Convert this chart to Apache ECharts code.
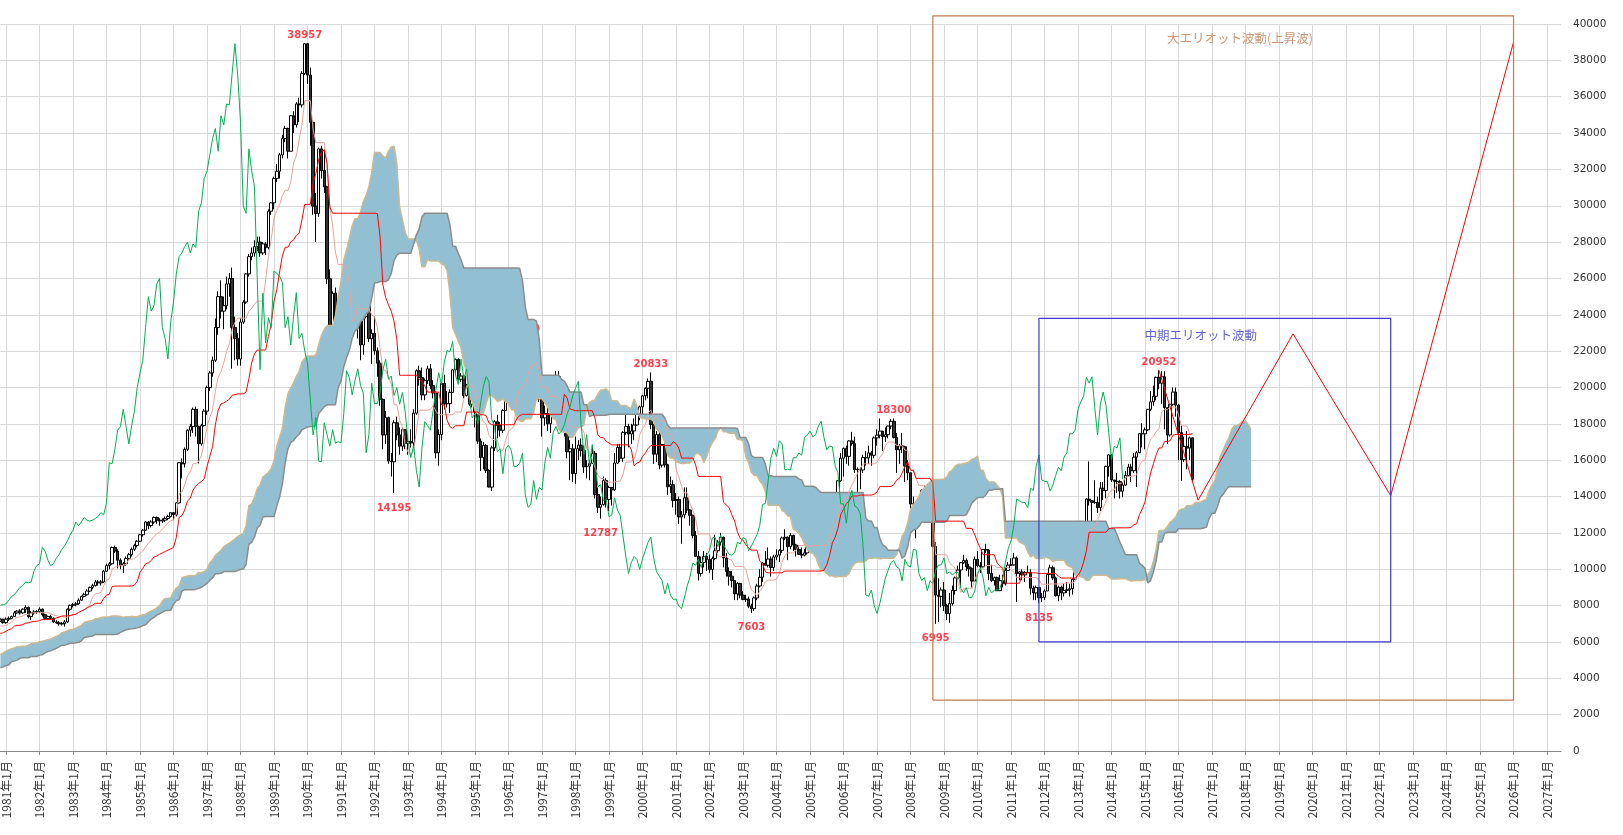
<!DOCTYPE html>
<html><head><meta charset="utf-8">
<script src="https://cdn.jsdelivr.net/npm/echarts@6/dist/echarts.min.js"></script>
<style>html,body{margin:0;padding:0;background:#fff}#c{width:1623px;height:835px}</style>
</head><body><div id="c"></div>
<script>
// ---- Monthly data before the chart start (1974-06 .. 1980-10), used only by the Ichimoku lines
const preClose = [4350,4150,3850,3780,3900,3850,3817,
 3950,4150,4350,4400,4450,4560,4300,4050,4000,4150,4300,4359,
 4500,4550,4600,4700,4650,4700,4750,4650,4700,4600,4700,4990,
 5000,5050,5100,5150,5100,5100,5150,5250,5280,5100,4950,4866,
 5050,5200,5350,5400,5450,5500,5550,5650,5700,5750,5850,6001,
 6050,6100,6150,6250,6200,6150,6100,6200,6400,6300,6350,6569,
 6600,6650,6550,6500,6650,6750,6850,7050,7000,7150];
const preHigh = [4500,4400,4200,3950,3950,4000,3900,
 4000,4200,4400,4450,4500,4564,4560,4320,4100,4200,4350,4400,
 4550,4600,4650,4750,4760,4750,4800,4780,4750,4720,4750,5000,
 5100,5100,5150,5200,5200,5150,5200,5300,5300,5300,5120,4980,
 5100,5250,5400,5450,5500,5560,5600,5700,5750,5800,5900,6050,
 6100,6150,6200,6300,6300,6250,6200,6250,6450,6420,6400,6600,
 6650,6700,6700,6600,6700,6800,6900,7100,7100,7200];
const preLow = [4300,4100,3800,3650,3355,3780,3700,
 3700,3900,4100,4300,4350,4400,4250,4000,3950,3950,4100,4250,
 4330,4450,4500,4560,4600,4600,4650,4600,4600,4550,4560,4680,
 4950,4950,5000,5050,5050,5030,5050,5120,5200,5050,4900,4800,
 4850,5030,5180,5320,5380,5420,5470,5530,5600,5650,5700,5820,
 5950,6000,6050,6100,6150,6100,6050,6080,6180,6250,6250,6330,
 6500,6550,6480,6450,6480,6620,6700,6830,6950,6950];

// ---- Monthly Nikkei 225 (1980-11 .. 2016-06)
const close = [7250,7063,
 7250,7300,7400,7600,7700,7600,7800,7900,7400,7600,7650,7681,
 7800,7500,7300,7400,7300,7100,7050,7000,7000,7100,7800,8016,
 8050,8100,8300,8500,8600,8800,9000,9100,9300,9250,9300,9894,
 10200,10300,11200,11000,10500,10200,10300,10600,10800,11100,11300,11543,
 11900,12150,12600,12400,12600,12850,12700,12650,12700,12800,12900,13113,
 13000,13650,15860,15800,16600,17650,17850,18800,17850,16900,17900,18701,
 20000,20800,21500,23300,25000,24200,24500,25700,26000,23300,22700,21564,
 23600,24700,26250,27200,27400,27750,28000,27400,27900,27700,29700,30159,
 31500,31900,32800,33700,34250,33000,34950,34450,35600,35550,37270,38916,
 37190,34590,29980,29580,33130,31940,31040,25980,20980,25190,22450,23849,
 23290,26410,26290,26110,25790,23290,23900,22340,23920,25220,22690,22984,
 22020,21340,19350,17390,18350,15950,15910,18060,17400,16770,17680,16925,
 17020,16950,18590,20920,20550,19590,20380,21030,20110,19700,16410,17417,
 20230,19110,19110,19730,20970,21550,20450,20630,19560,19990,19080,19723,
 18650,17050,16140,16810,15440,14520,16680,18120,17910,17650,18740,19868,
 20810,20130,21400,22040,21960,22530,20690,20170,21560,20470,21020,19361,
 18330,18560,18000,19150,20070,20600,20330,18230,17890,16460,16630,15259,
 16630,16830,16530,15640,15670,15830,16380,14110,13410,13560,14880,13842,
 14500,14370,15840,16700,16110,17530,17860,17440,17610,17940,18560,18934,
 19540,19960,20340,17970,16330,17410,15730,16860,15750,14540,14650,13786,
 13840,12880,12990,13930,13260,12970,11860,10710,9770,10370,10700,10543,
 9990,10590,11020,11490,11760,10620,9880,9620,9380,8640,9220,8579,
 8340,8360,7970,7830,8420,9080,9560,10340,10220,10560,10100,10677,
 10780,11040,11720,11760,11240,11860,11330,11080,10820,10770,10900,11489,
 11390,11740,11670,11010,11280,11580,11900,12410,13570,13610,14870,16111,
 16650,16210,17060,16910,15470,15510,15460,16140,16130,16400,16270,17226,
 17380,17600,17290,17400,17880,18140,17250,16570,16790,16740,15680,15308,
 13590,13600,12530,13850,14340,13480,13380,13070,11260,8580,8510,8860,
 7990,7570,8110,8830,9520,9960,10360,10490,10130,10030,9350,10546,
 10200,10130,11090,11060,9770,9380,9540,8820,9370,9200,9940,10229,
 10240,10620,9760,9850,9690,9820,9830,8960,8700,8990,8430,8455,
 8800,9720,10080,9520,8540,9010,8700,8840,8870,8930,9450,10395,
 11140,11560,12400,13860,13770,13680,13670,13390,14460,14330,15660,16291,
 14910,14840,14830,14300,14630,15160,15620,15420,16170,16410,17460,17451,
 17670,18800,19210,19520,20560,20240,20590,18890,17390,19080,19750,19034,
 17520,16030,16760,16670,17230,14952];
const high = [7300,7280,
 7350,7400,7450,7700,7750,7800,7850,8019,7950,7700,7750,7750,
 7900,7850,7550,7450,7500,7350,7200,7150,7100,7200,7850,8050,
 8150,8200,8400,8550,8700,8900,9050,9200,9400,9400,9400,9950,
 10300,10400,11250,11300,11100,10600,10400,10700,10900,11200,11400,11600,
 11950,12200,12650,12650,12700,12900,12900,12800,12800,12900,13000,13150,
 13150,13700,15900,16100,16700,17700,18000,18900,18950,17900,18000,18820,
 20100,20900,21700,23800,25300,25900,25000,26100,26300,26600,23900,23000,
 23800,24800,26300,27350,27700,28100,28300,28300,28000,28000,29800,30200,
 31600,32300,32900,33900,34400,34300,35000,35200,35700,35950,37400,38957,
 38920,37600,34700,30700,33200,33300,33100,31100,26500,25300,25500,24100,
 24000,26500,27150,26700,26500,26000,24300,24200,24100,25300,25300,23200,
 23900,22200,21500,19400,18700,18400,16400,18200,18400,17800,17800,17700,
 17400,17700,18800,21000,21200,21100,20500,21200,21300,20400,19800,17700,
 20300,20700,19800,19900,21000,21600,21600,20800,20700,20200,20100,19800,
 19900,18800,17200,17000,16900,15500,16800,18200,18500,18100,18800,19900,
 20900,21100,21500,22300,22600,22750,22700,21200,21700,21700,21300,21100,
 19500,19000,18900,19300,20500,20900,20900,20400,18600,18200,17100,16900,
 17300,17100,17200,16800,16000,16000,16800,16500,14500,14000,15100,15000,
 14600,14500,16400,16900,16900,17600,18600,18000,18000,18300,18900,19000,
 19600,20000,20500,20833,18000,17600,17700,16900,17000,15800,15100,14900,
 14200,14000,13200,14500,14500,13300,13000,12100,11000,10700,11000,10900,
 10800,10700,11900,11600,12000,11800,10900,10100,9900,9400,9300,9250,
 8800,8600,8500,8100,8500,9200,10000,10400,11000,11200,10700,10800,
 11100,11100,11800,12200,11800,12000,11900,11400,11300,11200,11100,11500,
 11500,11800,12000,11800,11300,11600,11900,12500,13600,13900,14900,16400,
 16700,16800,17100,17560,17300,15600,15600,16300,16500,16800,16500,17300,
 17700,18300,17600,17800,17900,18260,18297,17500,16900,17500,16800,16000,
 15310,14000,13700,13900,14400,14600,13700,13400,13100,11500,9500,9000,
 9300,8100,8700,9100,9600,10200,10400,10800,10600,10300,10100,10700,
 11000,10400,11100,11400,11100,10250,9600,9600,9700,9700,10100,10400,
 10600,10900,10700,9900,10000,9900,10200,10000,9100,9100,9000,8700,
 8900,9800,10250,10200,9600,9100,9100,9200,9300,9200,9500,10450,
 11200,11700,12650,13900,15942,13800,14900,14000,14800,14800,15700,16320,
 16320,14900,15300,14900,14800,15400,15800,15800,16400,16500,17500,18030,
 17800,18800,19800,20100,20600,20952,20900,20900,18900,19100,20000,20000,
 19100,17900,17300,17600,17300,17250];
const low = [7100,7000,
 7000,7150,7250,7380,7550,7500,7550,7600,7300,7200,7500,7550,
 7600,7400,7200,7200,7250,7050,7000,6900,6900,6849,7050,7700,
 7900,7950,8050,8250,8450,8550,8750,8900,9050,9100,9100,9250,
 9850,10000,10250,10900,10050,10000,9800,10200,10500,10700,11000,11200,
 11500,11800,12100,12200,12300,12500,12500,12400,12550,12600,12700,12850,
 12700,12900,13600,15000,15600,16500,17300,17500,17300,15820,16800,17850,
 18500,19800,20600,21400,22900,23800,23200,24300,25000,21036,21500,21200,
 21200,23500,24600,26100,27000,27200,27500,27200,27300,27300,27600,29500,
 29800,31300,31500,32600,33500,32600,33000,34000,34300,34600,35400,37200,
 36700,33300,29500,28000,29400,31500,30700,25700,20900,20221,22100,22200,
 21900,23200,25800,25500,25200,23000,22700,21500,21800,23800,22500,21300,
 21800,20600,19000,16600,16900,15800,15100,14195,17100,16300,16500,16600,
 16300,16700,16700,18500,20100,19300,19300,20200,19900,19400,16100,15700,
 17100,18800,18900,18600,19700,20700,20300,20300,19400,19500,19000,18900,
 17800,16900,15400,15500,15300,14500,14300,16500,17200,17300,17500,18700,
 19600,19700,19900,21300,21500,21700,20500,20000,20000,20300,20200,19200,
 17300,17900,17600,17500,19000,19900,19800,18100,17300,16100,14900,14800,
 14700,16000,16200,15300,15000,14900,15800,13900,13100,12787,13500,13400,
 13200,13500,14300,15800,15900,15900,17400,16700,16900,17100,17900,18200,
 18400,19300,19400,17700,15800,15900,15500,15600,15600,14100,14200,13400,
 13000,12500,11400,12800,13100,12400,11700,10700,9380,9600,10100,9900,
 9800,9420,10500,10900,11300,10100,9600,9100,9000,8300,8300,8400,
 8300,8200,7860,7603,7700,8300,9000,9300,10200,10100,9600,9900,
 10500,10400,10900,11600,10500,11100,11000,10700,10800,10600,10700,10800,
 11200,11300,11500,10800,10800,11000,11500,11700,12300,13000,13500,14800,
 15100,15800,15700,16800,15300,14045,14400,15300,15700,15800,15700,16100,
 16800,17200,16500,17000,17200,17700,17200,15300,15800,16400,14800,14900,
 12600,12900,11700,12500,13600,13400,12700,12600,11200,6995,7100,7900,
 7700,7200,7055,8000,8600,9400,9000,10300,9900,9600,9000,9300,
 10100,9800,10100,10900,9400,9300,9100,8800,8800,9000,9100,9900,
 10200,10200,8200,9400,9400,9300,9800,8600,8300,8300,8135,8200,
 8300,8800,9700,9400,8500,8238,8300,8500,8700,8500,8600,9400,
 10300,10800,11500,12000,13500,12400,13600,13100,13200,13800,13900,15100,
 14800,13900,14200,13885,13960,14600,15100,14800,15300,14529,16400,16700,
 16600,17600,18700,19000,19300,19900,19100,17700,16900,17300,19000,18400,
 16000,14865,15900,15500,16000,14864];

// ---- Annotations
const highLabelDates = ['1989-12','1996-06','2000-04','2007-07','2015-06'];
const highLabelValues = [38957,22750,20833,18300,20952];
const lowLabelDates = ['1992-08','1998-10','2003-04','2008-10','2011-11'];
const lowLabelValues = [14195,12787,7603,6995,8135];
const waveDates = ['2015-06','2016-08','2019-06','2022-05','2026-01'];
const waveValues = [20952,13800,22950,14050,39000];
const bigBoxDates = ['2008-09','2026-01'];
const bigBoxValues = [2800,40450];
const midBoxDates = ['2011-11','2022-05'];
const midBoxValues = [6000,23800];
const bigTitle = '大エリオット波動(上昇波)';
const bigTitleAt = ['2017-11', 39200];
const midTitle = '中期エリオット波動';
const midTitleAt = ['2016-09', 22870];
const CLOUD_END = '2018-03';
const yTicks = {min:0, max:40000, step:2000};

// ---- categories (months)
const cats = [];
for (let y = 1980, m = 11; !(y === 2027 && m === 7);) {
  cats.push(y + '-' + String(m).padStart(2, '0'));
  m++; if (m > 12) { m = 1; y++; }
}
const N = cats.length;
const P = preClose.length;
const H = preHigh.concat(high), Lo = preLow.concat(low), C = preClose.concat(close);
const lastP = C.length - 1;
function mid(p, n) {
  let hi = -Infinity, lo = Infinity;
  for (let k = p - n + 1; k <= p; k++) { if (k < 0) continue; hi = Math.max(hi, H[k]); lo = Math.min(lo, Lo[k]); }
  return (hi + lo) / 2;
}
const tenkan = [], kijun = [], chikou = [], spanA = [], spanB = [], cloudBase = [], cloudBand = [];
const cloudEnd = cats.indexOf(CLOUD_END);
for (let v = 0; v < N; v++) {
  const p = v + P;
  tenkan.push(p <= lastP ? mid(p, 9) : null);
  kijun.push(p <= lastP ? mid(p, 26) : null);
  chikou.push(v + 25 < close.length ? close[v + 25] : null);
  const s = p - 25;
  if (s <= lastP && v <= cloudEnd) {
    const a = (mid(s, 9) + mid(s, 26)) / 2, b = mid(s, 52);
    spanA.push(a); spanB.push(b);
    cloudBase.push(Math.min(a, b)); cloudBand.push(Math.abs(a - b));
  } else { spanA.push(null); spanB.push(null); cloudBase.push(null); cloudBand.push(null); }
}
const candles = close.map((c, i) => [i === 0 ? preClose[P - 1] : close[i - 1], c, low[i], high[i]]);
const box = (d, v) => [[d[0], v[0]], [d[0], v[1]], [d[1], v[1]], [d[1], v[0]], [d[0], v[0]]];

const chart = echarts.init(document.getElementById('c'), null, {renderer: 'canvas'});
const isYear = (i, val) => String(val).endsWith('-01');
const numLabel = {color: '#ff1020', fontFamily: 'DejaVu Sans', fontWeight: 'bold', fontSize: 10};
chart.setOption({
  animation: false,
  backgroundColor: '#fff',
  grid: {left: 0, right: 62, top: 24, bottom: 84},
  xAxis: {
    type: 'category', data: cats, boundaryGap: false,
    axisLine: {lineStyle: {color: '#888'}},
    axisTick: {show: true, interval: isYear, length: 4, lineStyle: {color: '#888'}},
    axisLabel: {interval: isYear, rotate: 90, margin: 10, color: '#333', fontSize: 12,
      fontFamily: 'Noto Sans CJK JP',
      formatter: v => { const [y, m] = v.split('-'); return y + '年' + (+m) + '月'; }},
    splitLine: {show: true, interval: isYear, lineStyle: {color: '#d9d9d9', width: 1}}
  },
  yAxis: {
    type: 'value', position: 'right', min: yTicks.min, max: yTicks.max, interval: yTicks.step,
    axisLine: {show: false}, axisTick: {show: false},
    axisLabel: {margin: 12, color: '#333', fontSize: 10.5, fontFamily: 'DejaVu Sans', formatter: v => String(v)},
    splitLine: {lineStyle: {color: '#d9d9d9', width: 1}}
  },
  series: [
    {name: 'cloudBase', type: 'line', data: cloudBase, stack: 'cloud', symbol: 'none',
      lineStyle: {width: 0}, areaStyle: {opacity: 0}, silent: true},
    {name: 'cloudBand', type: 'line', data: cloudBand, stack: 'cloud', symbol: 'none',
      lineStyle: {width: 0}, areaStyle: {color: '#92c0d2', opacity: 1}, silent: true},
    {name: 'spanA', type: 'line', data: spanA, symbol: 'none', lineStyle: {color: '#c9b995', width: 1.5}},
    {name: 'spanB', type: 'line', data: spanB, symbol: 'none', lineStyle: {color: '#8c8c8c', width: 1.5}},
    {name: 'price', type: 'candlestick', data: candles, barWidth: 3,
      itemStyle: {color: '#ffffff', color0: '#333333', borderColor: '#000000', borderColor0: '#000000', borderWidth: 1}},
    {name: 'tenkan', type: 'line', data: tenkan, symbol: 'none', lineStyle: {color: '#e6a39c', width: 1}},
    {name: 'kijun', type: 'line', data: kijun, symbol: 'none', lineStyle: {color: '#ff0000', width: 1}},
    {name: 'chikou', type: 'line', data: chikou, symbol: 'none', lineStyle: {color: '#00b050', width: 1}},
    {name: 'wave', type: 'line', data: waveDates.map((d, i) => [d, waveValues[i]]), symbol: 'none',
      lineStyle: {color: '#ff0000', width: 1}},
    {name: 'bigBox', type: 'line', data: box(bigBoxDates, bigBoxValues), symbol: 'none', clip: false,
      lineStyle: {color: '#c27a50', width: 1.2}},
    {name: 'midBox', type: 'line', data: box(midBoxDates, midBoxValues), symbol: 'none', clip: false,
      lineStyle: {color: '#3a3ad0', width: 1.2}},
    {name: 'highs', type: 'scatter', symbolSize: 0, data: highLabelDates.map((d, i) => [d, highLabelValues[i]]),
      label: Object.assign({show: true, position: 'top', distance: 3, formatter: p => p.value[1]}, numLabel)},
    {name: 'lows', type: 'scatter', symbolSize: 0, data: lowLabelDates.map((d, i) => [d, lowLabelValues[i]]),
      label: Object.assign({show: true, position: 'bottom', distance: 10, formatter: p => p.value[1]}, numLabel)},
    {name: 'notes', type: 'scatter', symbolSize: 0, clip: false,
      data: [
        {value: bigTitleAt, label: {formatter: bigTitle, color: '#c27a50'}},
        {value: midTitleAt, label: {formatter: midTitle, color: '#3a3ad0'}}
      ],
      label: {show: true, position: 'inside', fontSize: 12.5, fontFamily: 'Noto Sans CJK JP'}}
  ]
});
</script></body></html>
